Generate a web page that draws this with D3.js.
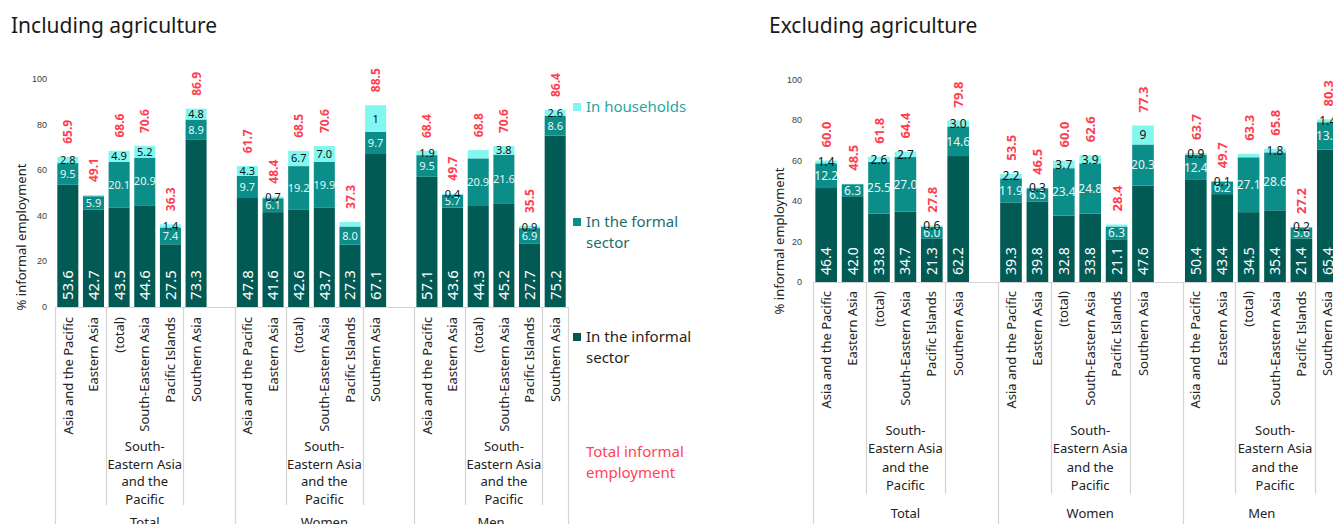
<!DOCTYPE html>
<html><head><meta charset="utf-8">
<script src="https://cdn.jsdelivr.net/npm/d3@7"></script>
<style>
body{margin:0;background:#fff;}
svg{display:block;font-family:"Noto Sans",sans-serif;}
</style></head>
<body>
<svg id="chart" width="1333" height="524"></svg>
<script>
const groups = ["Total","Women","Men"];
const regions = ["Asia and the Pacific","Eastern Asia","(total)","South-Eastern Asia","Pacific Islands","Southern Asia"];
const subRegionLines = ["South-","Eastern Asia","and the","Pacific"];
const yTicks = [0,20,40,60,80,100];
const seriesNames = ["In households","In the formal sector","In the informal sector","Total informal employment"];

// Including agriculture
const incInformal = [53.6,42.7,43.5,44.6,27.5,73.3, 47.8,41.6,42.6,43.7,27.3,67.1, 57.1,43.6,44.3,45.2,27.7,75.2];
const incFormal   = [9.5,5.9,20.1,20.9,7.4,8.9, 9.7,6.1,19.2,19.9,8.0,9.7, 9.5,5.7,20.9,21.6,6.9,8.6];
const incHouse    = [2.8,0.5,4.9,5.2,1.4,4.8, 4.3,0.7,6.7,7.0,2.0,11.7, 1.9,0.4,3.6,3.8,0.9,2.6];
const incHouseLbl = ["2.8","","4.9","5.2","1.4","4.8", "4.3","0.7","6.7","7.0","","1", "1.9","0.4","","3.8","0.9","2.6"];
const incTotal    = [65.9,49.1,68.6,70.6,36.3,86.9, 61.7,48.4,68.5,70.6,37.3,88.5, 68.4,49.7,68.8,70.6,35.5,86.4];

// Excluding agriculture
const excInformal = [46.4,42.0,33.8,34.7,21.3,62.2, 39.3,39.8,32.8,33.8,21.1,47.6, 50.4,43.4,34.5,35.4,21.4,65.4];
const excFormal   = [12.2,6.3,25.5,27.0,6.0,14.6, 11.9,6.5,23.4,24.8,6.3,20.3, 12.4,6.2,27.1,28.6,5.6,13.5];
const excHouse    = [1.4,0.2,2.6,2.7,0.6,3.0, 2.2,0.3,3.7,3.9,1.0,9.4, 0.9,0.1,1.7,1.8,0.2,1.4];
const excHouseLbl = ["1.4","","2.6","2.7","0.6","3.0", "2.2","0.3","3.7","3.9","","9", "0.9","0.1","","1.8","0.2","1.4"];
const excTotal    = [60.0,48.5,61.8,64.4,27.8,79.8, 53.5,46.5,60.0,62.6,28.4,77.3, 63.7,49.7,63.3,65.8,27.2,80.3];

const colors = {informal:"#025a55", formal:"#0b8d89", households:"#82f7f0"};
const fmt = d3.format(".1f");
const svg = d3.select("#chart");

function drawPanel(cfg){
  const g = svg.append("g");
  const keys = [];
  groups.forEach((gr,gi)=>{
    regions.forEach(r=>keys.push(gr+"|"+r));
    if(gi<groups.length-1) keys.push(gr+"|_");
  });
  const slot = d3.scaleBand().domain(keys).range([cfg.x0,cfg.x1]).padding(0);
  const bw = slot.bandwidth();
  const y = d3.scaleLinear().domain([0,100]).range([cfg.y0,cfg.yTop]);

  const rows = [];
  groups.forEach((gr,gi)=>regions.forEach((r,ri)=>{
    const i = gi*regions.length+ri;
    rows.push({key:gr+"|"+r, informal:cfg.informal[i], formal:cfg.formal[i], households:cfg.house[i],
      hLbl:cfg.houseLbl[i], total:cfg.total[i]});
  }));
  const stack = d3.stack().keys(["informal","formal","households"])(rows);

  g.append("text").attr("x",cfg.titleX).attr("y",33).attr("font-size",21).attr("fill","#1a1a1a").text(cfg.title);

  g.selectAll(".yt").data(yTicks).join("text")
    .attr("x",cfg.tickX).attr("y",d=>y(d)+3).attr("text-anchor","end")
    .attr("font-family","Liberation Sans, Arial, sans-serif").attr("font-size",9).attr("fill","#404040").text(d=>d);
  g.append("text").attr("transform",`translate(${cfg.ylabX},${cfg.ylabY}) rotate(-90)`)
    .attr("text-anchor","middle").attr("font-size",13).attr("fill","#222").text("% informal employment");

  const bx = d=>slot(d.data.key)+bw*0.09;
  stack.forEach(s=>{
    g.selectAll(null).data(s).join("rect")
      .attr("x",bx).attr("width",bw*0.82)
      .attr("y",d=>y(d[1])).attr("height",d=>y(d[0])-y(d[1]))
      .attr("fill",colors[s.key]);
  });
  const cx = d=>slot(d.key)+bw/2;
  g.selectAll(null).data(rows).join("text")
    .attr("transform",d=>`translate(${cx(d)+cfg.infFs*0.36},${cfg.y0-7}) rotate(-90)`)
    .attr("font-size",cfg.infFs).attr("fill","#fff").text(d=>fmt(d.informal));
  g.selectAll(null).data(rows).join("text")
    .attr("x",cx).attr("y",d=>y(d.informal+d.formal/2)+cfg.segFs*0.36)
    .attr("text-anchor","middle").attr("font-size",cfg.segFs).attr("fill","#e8f6f5").text(d=>fmt(d.formal));
  g.selectAll(null).data(rows).join("text")
    .attr("x",cx).attr("y",d=>y(d.informal+d.formal+d.households/2)+cfg.segFs*0.36)
    .attr("text-anchor","middle").attr("font-size",cfg.segFs).attr("fill","#111").text(d=>d.hLbl);
  g.selectAll(null).data(rows).join("text")
    .attr("transform",d=>`translate(${cx(d)+cfg.totFs*0.38},${y(d.total)-13}) rotate(-90)`)
    .attr("font-size",cfg.totFs).attr("font-weight","bold").attr("fill","#ff3d50").text(d=>fmt(d.total));

  const lc = "#d4d4d4";
  g.append("line").attr("x1",cfg.x0).attr("x2",cfg.x1).attr("y1",cfg.y0+0.5).attr("y2",cfg.y0+0.5).attr("stroke",lc);
  const l1 = [cfg.x0, slot("Women|"+regions[0]), slot("Men|"+regions[0]), cfg.x1];
  g.selectAll(null).data(l1).join("line")
    .attr("x1",d=>Math.round(d)+0.5).attr("x2",d=>Math.round(d)+0.5).attr("y1",cfg.y0).attr("y2",540)
    .attr("stroke",lc).attr("stroke-width",1.2);
  const l2 = [];
  groups.forEach(gr=>{ l2.push(slot(gr+"|(total)")); l2.push(slot(gr+"|Southern Asia")); });
  g.selectAll(null).data(l2).join("line")
    .attr("x1",d=>Math.round(d)+0.5).attr("x2",d=>Math.round(d)+0.5).attr("y1",cfg.y0).attr("y2",cfg.l2End)
    .attr("stroke",lc).attr("stroke-width",1.2);
  g.selectAll(null).data(rows).join("text")
    .attr("transform",d=>`translate(${cx(d)+cfg.catFs*0.36},${cfg.y0+cfg.catOff}) rotate(-90)`)
    .attr("text-anchor","end").attr("font-size",cfg.catFs).attr("fill","#222").text(d=>d.key.split("|")[1]);
  groups.forEach(gr=>{
    const xc = slot(gr+"|South-Eastern Asia")+bw/2;
    subRegionLines.forEach((t,li)=>{
      g.append("text").attr("x",xc).attr("y",cfg.subY[li]).attr("text-anchor","middle")
        .attr("font-size",cfg.catFs).attr("fill","#222").text(t);
    });
  });
  groups.forEach((gr,gi)=>{
    g.append("text").attr("x",(l1[gi]+l1[gi+1])/2).attr("y",cfg.grpY).attr("text-anchor","middle")
      .attr("font-size",cfg.catFs).attr("fill","#222").text(gr);
  });
  return g;
}

drawPanel({title:"Including agriculture", titleX:11, x0:55, x1:568, y0:307, yTop:79,
  tickX:47, ylabX:26, ylabY:237, infFs:15, segFs:11, totFs:12, catFs:13, catOff:10,
  l2End:505, subY:[451,469,486,504], grpY:527,
  informal:incInformal, formal:incFormal, house:incHouse, houseLbl:incHouseLbl, total:incTotal});

drawPanel({title:"Excluding agriculture", titleX:769, x0:813, x1:1341, y0:282, yTop:79.5,
  tickX:802, ylabX:784, ylabY:241, infFs:14, segFs:12, totFs:13, catFs:13, catOff:9,
  l2End:494, subY:[435,453,472,490], grpY:518,
  informal:excInformal, formal:excFormal, house:excHouse, houseLbl:excHouseLbl, total:excTotal});

const legend = [
  {name:seriesNames[0], color:colors.households, text:"#27a6a1", y:[107]},
  {name:seriesNames[1], color:colors.formal, text:"#1d6d6a", y:[222,243]},
  {name:seriesNames[2], color:colors.informal, text:"#1e1e1e", y:[337,358]},
  {name:seriesNames[3], color:null, text:"#ff4357", y:[452,473]}
];
const lg = svg.append("g");
legend.forEach(d=>{
  if(d.color) lg.append("rect").attr("x",573).attr("y",d.y[0]-4).attr("width",8).attr("height",8).attr("fill",d.color);
  const words = d.name.split(" ");
  const lines = d.y.length===1 ? [d.name] : [words.slice(0,words.length-1).join(" "), words[words.length-1]];
  lines.forEach((t,i)=>lg.append("text").attr("x",586).attr("y",d.y[i]+5).attr("font-size",15).attr("fill",d.text).text(t));
});
</script>
</body></html>
